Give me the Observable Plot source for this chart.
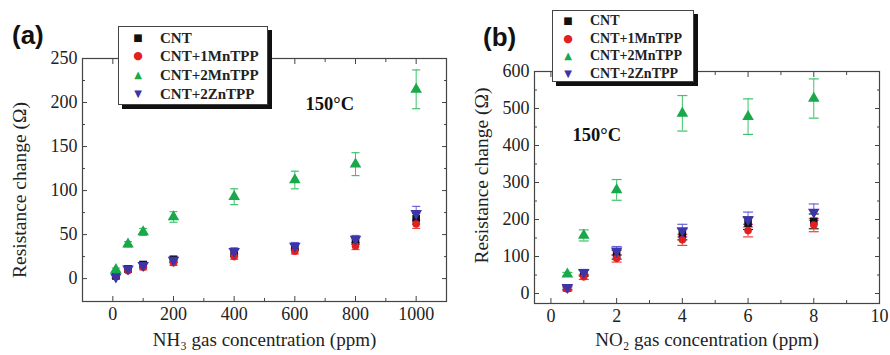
<!DOCTYPE html>
<html><head><meta charset="utf-8">
<script src="https://cdn.jsdelivr.net/npm/d3@7"></script>
<script src="https://cdn.jsdelivr.net/npm/@observablehq/plot@0.6"></script>
<style>
body{margin:0;background:#fff;}
#wrap{position:relative;width:890px;height:355px;overflow:hidden;background:#fff;font-family:"Liberation Serif",serif;}
.panel{position:absolute;top:0;}
.tag{position:absolute;font-family:"Liberation Sans",Arial,sans-serif;font-weight:bold;font-size:26px;color:#111;}
.leg{position:absolute;background:#fff;border:1px solid #444;box-shadow:4px 4px 0 #111;font-family:"Liberation Serif",serif;font-weight:bold;color:#222;}
.leg .row{position:absolute;left:0;white-space:nowrap;}
.leg .mk{position:absolute;font-family:"DejaVu Sans",sans-serif;text-align:center;width:16px;}
</style></head>
<body><div id="wrap"></div>
<script>
const seriesNames = ["CNT","CNT+1MnTPP","CNT+2MnTPP","CNT+2ZnTPP"];
const seriesColors = ["#111111","#e3201f","#19a84a","#3b35a8"];
const errColors = ["#222222","#f0403a","#3cc46a","#6a64d8"];
const seriesSymbols = ["square","circle","triangle","triangle"];
const seriesRotate = [0,0,0,180];
const legendGlyphs = ["■","●","▲","▼"];

// Panel (a): NH3
const xA = [10,50,100,200,400,600,800,1000];
const valA = [
  [3,11,16,22,29,36,43,68],
  [3,9,13,18,25,31,37,62],
  [10,39,53,70,93,112,130,215],
  [2,11,15,21,31,37,45,74]
];
const errA = [
  [2,3,3,3,4,4,4,6],
  [2,2,3,3,3,3,4,5],
  [2,3,4,6,9,10,13,22],
  [2,3,3,3,4,4,4,8]
];
const xTicksA = [0,200,400,600,800,1000];
const xMinorA = [100,300,500,700,900];
const yTicksA = [0,50,100,150,200,250];
const yMinorA = [25,75,125,175,225];

// Panel (b): NO2
const xB = [0.5,1,2,4,6,8];
const valB = [
  [15,55,105,160,190,195],
  [12,45,95,145,170,185],
  [52,157,280,487,478,527],
  [17,57,115,170,200,220]
];
const errB = [
  [5,8,12,15,17,20],
  [5,7,10,15,17,18],
  [5,15,28,48,48,53],
  [5,8,12,17,20,22]
];
const xTicksB = [0,2,4,6,8,10];
const xMinorB = [1,3,5,7,9];
const yTicksB = [0,100,200,300,400,500,600];
const yMinorB = [50,150,250,350,450,550];

const capSymbol = {draw(ctx, size){ const w = Math.sqrt(size/Math.PI); ctx.moveTo(-w,0); ctx.lineTo(w,0); }};
const fmt = d3.format("d");

function rows(xs, vals, errs){
  const out = [];
  vals.forEach((arr, s) => arr.forEach((v, i) => out.push({s, x: xs[i], y: v, lo: v - errs[s][i], hi: v + errs[s][i]})));
  return out;
}

function panel(o){
  const data = rows(o.xs, o.vals, o.errs);
  const marks = [
    Plot.frame({stroke:"#444", strokeWidth:1.2}),
    Plot.axisX({ticks:o.xTicks, tickSize:0, tickPadding:6, label:null, fontSize:18, tickFormat:fmt}),
    Plot.axisY({ticks:o.yTicks, tickSize:0, tickPadding:5, label:null, fontSize:18, tickFormat:fmt}),
    Plot.axisX({ticks:o.xTicks, tickSize:-5, tickFormat:()=>"", label:null, stroke:"#444"}),
    Plot.axisX({ticks:o.xMinor, tickSize:-3, tickFormat:()=>"", label:null, stroke:"#444"}),
    Plot.axisX({anchor:"top", ticks:o.xTicks, tickSize:-5, tickFormat:()=>"", label:null, stroke:"#444"}),
    Plot.axisX({anchor:"top", ticks:o.xMinor, tickSize:-3, tickFormat:()=>"", label:null, stroke:"#444"}),
    Plot.axisY({ticks:o.yTicks, tickSize:-5, tickFormat:()=>"", label:null, stroke:"#444"}),
    Plot.axisY({ticks:o.yMinor, tickSize:-3, tickFormat:()=>"", label:null, stroke:"#444"}),
    Plot.axisY({anchor:"right", ticks:o.yTicks, tickSize:-5, tickFormat:()=>"", label:null, stroke:"#444"}),
    Plot.axisY({anchor:"right", ticks:o.yMinor, tickSize:-3, tickFormat:()=>"", label:null, stroke:"#444"}),
  ];
  for (let s = 0; s < seriesNames.length; s++) {
    const d = data.filter(r => r.s === s);
    marks.push(Plot.ruleX(d, {x:"x", y1:"lo", y2:"hi", stroke:errColors[s], strokeWidth:1}));
    marks.push(Plot.dot(d, {x:"x", y:"lo", symbol:capSymbol, r:o.cap, stroke:errColors[s], strokeWidth:1.2}));
    marks.push(Plot.dot(d, {x:"x", y:"hi", symbol:capSymbol, r:o.cap, stroke:errColors[s], strokeWidth:1.2}));
  }
  for (let s = 0; s < seriesNames.length; s++) {
    const d = data.filter(r => r.s === s);
    marks.push(Plot.dot(d, {x:"x", y:"y", symbol:seriesSymbols[s], rotate:seriesRotate[s], r:seriesSymbols[s]==="circle"?3.8:4.3, fill:seriesColors[s], stroke:"none"}));
  }
  marks.push(Plot.text([o.xLabel], {frameAnchor:"bottom", dy:o.xLabelDy, fontSize:19, fill:"#222"}));
  marks.push(Plot.text([o.yLabel], {frameAnchor:"left", textAnchor:"middle", dx:o.yLabelDx, dy:o.yLabelDy, rotate:-90, fontSize:19.5, fill:"#222"}));
  marks.push(Plot.text(["150°C"], {frameAnchor:"top-left", dx:o.tDx, dy:o.tDy, textAnchor:"start", fontSize:18.5, fontWeight:"bold", fill:"#111"}));
  return Plot.plot({
    width:o.width, height:355,
    marginLeft:o.ml, marginRight:o.mr, marginTop:o.mt, marginBottom:o.mb,
    x:{domain:o.xDomain}, y:{domain:o.yDomain},
    style:{fontFamily:"'Liberation Serif', serif", fontSize:"18px", color:"#222", background:"transparent", overflow:"visible"},
    marks
  });
}

const wrap = document.getElementById("wrap");

const pA = panel({width:460, ml:82, mr:14, mt:58, mb:54, xs:xA, vals:valA, errs:errA,
  xDomain:[-100,1100], yDomain:[-26,250], xTicks:xTicksA, xMinor:xMinorA, yTicks:yTicksA, yMinor:yMinorA,
  xLabel:"NH\u2083 gas concentration (ppm)", yLabel:"Resistance change (\u03A9)",
  xLabelDy:44, yLabelDx:-63, yLabelDy:10, tDx:223, tDy:38, cap:4});
pA.classList.add("panel"); pA.style.left = "0px";
wrap.appendChild(pA);

const pB = panel({width:450, ml:94, mr:11, mt:71, mb:52, xs:xB, vals:valB, errs:errB,
  xDomain:[-0.5,10], yDomain:[-27,600], xTicks:xTicksB, xMinor:xMinorB, yTicks:yTicksB, yMinor:yMinorB,
  xLabel:"NO\u2082 gas concentration (ppm)", yLabel:"Resistance change (\u03A9)",
  xLabelDy:42, yLabelDx:-53, yLabelDy:-12, tDx:38, tDy:56, cap:5});
pB.classList.add("panel"); pB.style.left = "440px";
wrap.appendChild(pB);

function addTag(t, left, top){
  const d = document.createElement("div"); d.className = "tag"; d.textContent = t;
  d.style.left = left + "px"; d.style.top = top + "px"; wrap.appendChild(d);
}
addTag("(a)", 12, 20);
addTag("(b)", 483, 22);

function addLegend(left, top, w, h, mkX, txtX, rowYs, fs){
  const box = document.createElement("div"); box.className = "leg";
  Object.assign(box.style, {left:left+"px", top:top+"px", width:w+"px", height:h+"px", fontSize:fs+"px"});
  seriesNames.forEach((n, i) => {
    const r = document.createElement("div"); r.className = "row";
    r.style.top = (rowYs[i] - fs*0.6) + "px"; r.style.lineHeight = (fs*1.2) + "px";
    const m = document.createElement("span"); m.className = "mk"; m.textContent = legendGlyphs[i];
    m.style.color = seriesColors[i]; m.style.left = (mkX - 8) + "px";
    m.style.fontSize = (i === 1 ? 11 : 10) + "px";
    const t = document.createElement("span"); t.textContent = n; t.style.position = "absolute"; t.style.left = txtX + "px";
    r.appendChild(m); r.appendChild(t); box.appendChild(r);
  });
  wrap.appendChild(box);
}
addLegend(118, 26, 148, 77, 19, 41, [11, 29, 48, 67], 15);
addLegend(552, 10, 140, 70, 15, 37, [10, 28, 45, 63], 14);
</script></body></html>
